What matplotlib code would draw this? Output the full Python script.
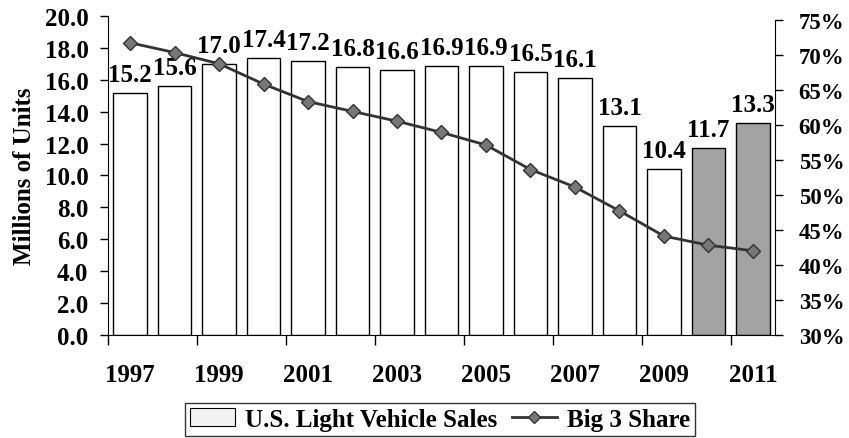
import matplotlib
matplotlib.use("Agg")
import matplotlib.pyplot as plt
import numpy as np
from matplotlib.patches import Patch
from matplotlib.lines import Line2D

years = [1997, 1998, 1999, 2000, 2001, 2002, 2003, 2004, 2005, 2006, 2007, 2008, 2009, 2010, 2011]
sales = [15.2, 15.6, 17.0, 17.4, 17.2, 16.8, 16.6, 16.9, 16.9, 16.5, 16.1, 13.1, 10.4, 11.7, 13.3]
share = [71.7, 70.3, 68.7, 65.8, 63.3, 61.9, 60.5, 58.9, 57.1, 53.6, 51.1, 47.7, 44.1, 42.8, 42.0]
forecast_years = [2010, 2011]
left_ticks = [0, 2, 4, 6, 8, 10, 12, 14, 16, 18, 20]
right_ticks = [30, 35, 40, 45, 50, 55, 60, 65, 70, 75]

plt.rcParams['font.family'] = ['Liberation Serif', 'DejaVu Serif']
plt.rcParams['font.weight'] = 'bold'

fig = plt.figure(figsize=(8.49, 4.39), dpi=100)
ax = fig.add_axes([0.127, 0.235, 0.786, 0.726])
x = np.arange(len(years))
colors = ['#a3a3a3' if y in forecast_years else 'white' for y in years]
bars = ax.bar(x, sales, width=0.75, color=colors, edgecolor='black', linewidth=1.0, zorder=2)
for xi, v in zip(x, sales):
    ax.annotate(f"{v:.1f}", (xi, v), xytext=(0, 5), textcoords='offset points',
                ha='center', va='bottom', fontsize=18, fontweight='bold')

ax.set_xlim(-0.5, len(years) - 0.5)
ax.set_ylim(0, 20)
ax.set_yticks(left_ticks)
ax.set_yticklabels([f"{t:.1f}" for t in left_ticks], fontsize=18, fontweight='bold')
ax.set_xticks(x[::2])
ax.set_xticklabels([str(y) for y in years[::2]], fontsize=18, fontweight='bold')
ax.tick_params(axis='x', which='major', length=0, pad=20)
ax.set_xticks(np.arange(-0.5, len(years), 2), minor=True)
ax.tick_params(axis='x', which='minor', length=7, direction='out', width=1)
ax.tick_params(axis='y', length=6, direction='out', width=1, pad=8)
ax.spines['top'].set_visible(False)
ax.spines['right'].set_visible(False)
ax.set_ylabel("Millions of Units", fontsize=18, fontweight='bold', labelpad=6)

ax2 = ax.twinx()
ax2.set_ylim(30, 75.5)
ax2.plot(x, share, color='#333333', linewidth=2, marker='D', markersize=7,
         markerfacecolor='#777777', markeredgecolor='#333333', zorder=3)
ax2.set_yticks(right_ticks)
ax2.set_yticklabels([f"{t}%" for t in right_ticks], fontsize=16.5, fontweight='bold')
ax2.tick_params(axis='y', length=6, direction='out', width=1, pad=11)
ax2.spines['top'].set_visible(False)
ax2.spines['left'].set_visible(False)
ax2.spines['bottom'].set_visible(False)
ax2.spines['right'].set_bounds(30, 75)

handles = [Patch(facecolor='#f2f2f2', edgecolor='black', linewidth=0.8),
           Line2D([0], [0], color='#333333', linewidth=2, marker='D', markersize=6,
                  markerfacecolor='#777777', markeredgecolor='#333333')]
leg = fig.legend(handles, ["U.S. Light Vehicle Sales", "Big 3 Share"], loc='center',
                 bbox_to_anchor=(0.518, 0.043), ncol=2, frameon=True, fancybox=False,
                 edgecolor='black', handlelength=1.8, handletextpad=0.4,
                 columnspacing=0.6, borderpad=0.2, prop={'weight': 'bold', 'size': 18})
leg.get_frame().set_linewidth(1.0)

fig.savefig("out.png", dpi=100)
